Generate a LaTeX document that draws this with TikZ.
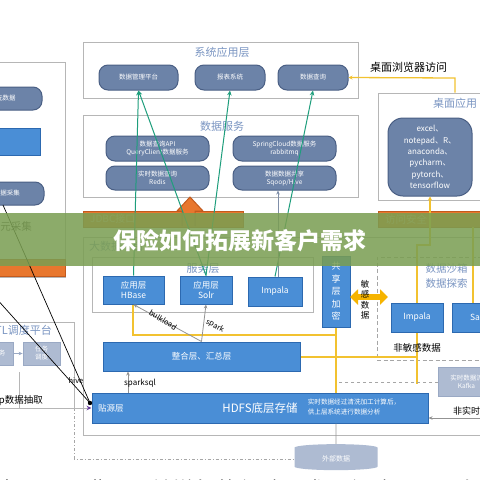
\documentclass[tikz,border=0pt]{standalone}
\usepackage{fontspec}
\setmainfont{Noto Sans CJK SC}
\usetikzlibrary{arrows.meta,shapes.geometric}
\definecolor{pillc}{HTML}{6C83A8}
\definecolor{pillb}{HTML}{4A5F84}
\definecolor{bluec}{HTML}{4A8ED6}
\definecolor{blueb}{HTML}{2C69B0}
\definecolor{titlec}{HTML}{7A95C2}
\definecolor{boxb}{HTML}{B6B6B6}
\definecolor{orangec}{HTML}{E8772E}
\definecolor{orangeb}{HTML}{C25A1E}
\definecolor{greenl}{HTML}{1E9E7C}
\definecolor{yell}{HTML}{F2C230}
\definecolor{yarrow}{HTML}{F6B400}
\definecolor{fadec}{HTML}{AEBBD2}
\definecolor{fadeb}{HTML}{9AA9C4}
\definecolor{bannerc}{HTML}{7A9E52}
\definecolor{purp}{HTML}{6A3FA0}
\begin{document}
\begin{tikzpicture}[x=1pt,y=-1pt,
  frame/.style={draw=boxb,line width=0.9pt,fill=white,inner sep=0pt},
  dframe/.style={draw=gray!70,line width=0.9pt,dashed,dash pattern=on 4pt off 2.5pt,inner sep=0pt},
  pill/.style={draw=pillb,fill=pillc,line width=1pt,rounded corners=9pt,text=white,align=center,inner sep=0pt,font=\fontsize{6.5}{8}\selectfont},
  bbox/.style={draw=blueb,fill=bluec,line width=1pt,text=white,align=center,inner sep=0pt,font=\fontsize{8.5}{10.5}\selectfont},
  fbox/.style={fill=fadec,draw=fadeb,line width=0.8pt,text=white,align=center,inner sep=0pt,font=\fontsize{6.5}{8}\selectfont},
  ttl/.style={text=titlec,inner sep=0pt,font=\fontsize{11}{12}\selectfont},
  lbl/.style={text=black,inner sep=0pt,font=\fontsize{8}{9}\selectfont},
  obar/.style={draw=orangeb,fill=orangec,line width=1pt,inner sep=0pt},
  gl/.style={draw=greenl,line width=1pt,-{Stealth[length=5pt,width=4.5pt]}},
  yl/.style={draw=yell,line width=1.3pt},
  gy/.style={draw=gray!85,line width=0.8pt,-{Stealth[length=4pt,width=3.5pt]}},
  bl/.style={draw=black,line width=0.7pt},
]
\useasboundingbox (0,0) rectangle (480,480);
\clip (0,0) rectangle (480,480);
\fill[white] (0,0) rectangle (480,480);

% ---------- frames ----------
\node[frame,minimum width=275pt,minimum height=56pt] (sysapp) at (220.5,70) {};
\node[ttl] (sysappt) at (222,52) {系统应用层};
\node[frame,minimum width=275pt,minimum height=82pt] (dserv) at (220.5,156) {};
\node[ttl] (dservt) at (222,126) {数据服务};
\node[frame,minimum width=114pt,minimum height=107pt] (desk) at (435,146.5) {};
\node[ttl] (deskt) at (455,103) {桌面应用};
\node[frame,minimum width=70pt,minimum height=215pt] (leftb) at (30,169.5) {};
\node[frame,minimum width=412pt,minimum height=198pt] (mainb) at (289,336) {};
\node[ttl,anchor=west] (maint) at (89,246) {大数据平台};
\node[frame,minimum width=221pt,minimum height=55pt] (serv) at (202.5,284.5) {};
\node[ttl] (servt) at (203,268) {服务层};
\node[dframe,minimum width=118pt,minimum height=103pt] (sandbox) at (436,308.5) {};
\node[ttl,align=center,font=\fontsize{10.5}{16}\selectfont] (sandt) at (446.5,276) {数据沙箱\\数据探索};
\node[frame,minimum width=84pt,minimum height=86pt] (etl) at (32,365) {};
\node[ttl,anchor=east] (etlt) at (52,330) {ETL调度平台};

% ---------- top pills ----------
\node[pill,minimum width=79pt,minimum height=25pt] (pa) at (138.5,77.5) {数据管理平台};
\node[pill,minimum width=70pt,minimum height=25pt] (pb) at (230,77.5) {报表系统};
\node[pill,minimum width=70pt,minimum height=25pt] (pc) at (313,77.5) {数据查询};
\node[lbl,font=\fontsize{11}{12}\selectfont] (browser) at (408.5,67) {桌面浏览器访问};

% ---------- data service pills ----------
\node[pill,minimum width=103pt,minimum height=25pt] (d1) at (157.5,148.5) {数据查询API\\QueryClient数据服务};
\node[pill,minimum width=103pt,minimum height=24pt] (d2) at (157.5,178) {实时数据查询\\Redis};
\node[pill,minimum width=103pt,minimum height=25pt] (d3) at (284.5,148.5) {SpringCloud数据服务\\rabbitmq};
\node[pill,minimum width=103pt,minimum height=24pt] (d4) at (284.5,178) {数据数据共享\\Sqoop/Hive};

% ---------- desktop pill ----------
\node[pill,rounded corners=15pt,minimum width=84pt,minimum height=78pt,font=\fontsize{8}{11.3}\selectfont] (dp) at (430,157) {excel、\\notepad、R、\\anaconda、\\pycharm、\\pytorch、\\tensorflow};

% ---------- left box content ----------
\node[pill,minimum width=72pt,minimum height=23pt] (lp1) at (6,98.5) {元数据};
\node[bbox,minimum width=50pt,minimum height=27pt] (lr) at (15,141.5) {};
\node[pill,minimum width=74pt,minimum height=23pt] (lp2) at (7,193.5) {数据采集};
\node[lbl,anchor=east,text=black!75,font=\fontsize{10.5}{12}\selectfont] (collect) at (32,227) {多元采集};
\node[obar,minimum width=70pt,minimum height=17pt] (lob) at (30,267.5) {};

% ---------- JDBC / access bars ----------
\node[obar,minimum width=160pt,minimum height=16pt] (jdbc) at (163,219) {};
\node[anchor=west,text=orangec!55!white,inner sep=0pt,font=\fontsize{10}{11}\selectfont] (jdbct) at (90,219) {JDBC接口};
\node[obar,minimum width=112pt,minimum height=16pt] (acc) at (434,219) {};
\node[anchor=west,text=orangec!55!white,inner sep=0pt,font=\fontsize{10.5}{11}\selectfont] (acct) at (385,219) {访问安全};
\filldraw[fill=orangec,draw=orangeb,line width=1pt] (182,226) -- (182,211) -- (177,211) -- (190,197) -- (203,211) -- (195,211) -- (195,226);

% ---------- ETL inner ----------
\node[fbox,minimum width=28pt,minimum height=23pt] (g1) at (-1,353.5) {任务};
\node[fbox,minimum width=37pt,minimum height=23pt] (g2) at (41.5,353.5) {任务\\调度};
\draw[gy,draw=fadeb] (g1) -- (g2);
\coordinate (vl1) at (19,372);
\coordinate (vl2) at (19,408);
\draw[draw=boxb,line width=0.8pt] (vl1) -- (vl2);

% ---------- yellow lines ----------
\coordinate (y1) at (455,78);
\draw[yl,-{Stealth[length=4pt,width=4pt]}] (desk.north -| y1) -- (y1) -- (pc.east);
\coordinate (y2) at (430,245);
\coordinate (y3) at (417,245);
\coordinate (i2t) at (417,303);
\draw[yl,{Stealth[length=4pt,width=4pt]}-] (dp.south) -- (y2) -- (y3) -- (i2t);
\coordinate (y4) at (473,227);
\coordinate (y5) at (473,303);
\draw[yl] (y4) -- (y5);
\coordinate (y6) at (133,305);
\coordinate (y7) at (133,335);
\coordinate (y8) at (336,335);
\draw[yl] (y6) -- (y7) -- (y8);
\coordinate (y9) at (336,327);
\coordinate (y10) at (336,393);
\draw[yl] (y9) -- (y10);
\coordinate (y11) at (300,357);
\coordinate (y12) at (417,357);
\draw[yl] (y11) -- (y12);
\coordinate (y13) at (417,332);
\coordinate (y14) at (417,384);
\draw[yl] (y13) -- (y14);
\coordinate (dg1) at (438,382);
\coordinate (dg2) at (338,382);
\draw[draw=gray!70,line width=0.8pt,dashed] (dg1) -- (dg2);

% ---------- service layer ----------
\node[bbox,minimum width=61pt,minimum height=28pt] (hbase) at (133.5,290) {应用层\\HBase};
\node[bbox,minimum width=52pt,minimum height=28pt] (solr) at (206,290) {应用层\\Solr};
\node[bbox,minimum width=54pt,minimum height=29pt] (impala) at (275,291.5) {Impala};
\node[bbox,minimum width=28pt,minimum height=71pt,font=\fontsize{9}{12.5}\selectfont] (share) at (336,291.5) {共\\享\\层\\加\\密};
\node[bbox,minimum width=52pt,minimum height=29pt] (impala2) at (417,317.5) {Impala};
\node[bbox,minimum width=50pt,minimum height=29pt] (sas) at (477,317.5) {Sas};
\node[lbl,font=\fontsize{9.5}{11}\selectfont] (nsens) at (417,348) {非敏感数据};

\coordinate (dl) at (350,297);
\coordinate (dr) at (388,297);
\draw[draw=yarrow,line width=6pt,{Triangle[length=8pt,width=15pt]}-{Triangle[length=8pt,width=15pt]}] (dl) -- (dr);
\node[lbl,align=center,font=\fontsize{8.5}{10.5}\selectfont] (sens) at (365,300) {敏\\感\\数\\据};

% ---------- integration + HDFS ----------
\node[bbox,minimum width=197pt,minimum height=29pt] (integ) at (201.5,356.5) {整合层、汇总层};
\node[bbox,minimum width=336pt,minimum height=30pt] (hdfs) at (260,408) {};
\node[text=white,anchor=west,inner sep=0pt,font=\fontsize{8.5}{10}\selectfont] (tieyuan) at (98,408) {贴源层};
\node[text=white,inner sep=0pt,font=\fontsize{11.5}{13}\selectfont] (hdfst) at (260,408) {HDFS底层存储};
\node[text=white,inner sep=0pt,align=left,font=\fontsize{6.6}{10}\selectfont] (hdfsr) at (354,407) {实时数据经过清洗加工计算后，\\供上层系统进行数据分析};
\node[fbox,minimum width=57pt,minimum height=29pt] (kafka) at (466.5,381.5) {实时数据流\\Kafka};

\node[cylinder,shape border rotate=90,aspect=0.25,minimum width=83pt,minimum height=26pt,fill=fadec,draw=none,text=white,inner sep=0pt,font=\fontsize{7}{8}\selectfont] (ext) at (336,459) {外部数据};
\draw[draw=gray!80,line width=0.8pt] (hdfs.south -| ext) -- (ext.north);
\draw[draw=gray!70,line width=0.8pt,dash pattern=on 3pt off 2pt on 1pt off 2pt] (etl.south east) -- (etl.south east |- ext.west) -- (ext.west);

% non-realtime
\coordinate (nr) at (490,418);
\draw[gy] (nr) -- (hdfs.east |- nr);
\node[lbl,anchor=west,font=\fontsize{9}{10}\selectfont] (nrt) at (453,411) {非实时数据};

% gray arrows
\draw[gy] (integ.north) -- (hbase.south);
\draw[gy] (integ.north) -- (solr.south);
\node[lbl,rotate=-31,font=\fontsize{7.5}{8}\selectfont] (bulk) at (163,320) {bulkload};
\node[lbl,rotate=-28,font=\fontsize{7.5}{8}\selectfont] (sparkl) at (215,326) {spark};
\coordinate (sq1) at (128,393);
\draw[gy] (sq1) -- (sq1 |- integ.south);
\node[lbl,font=\fontsize{8}{9}\selectfont] (sparksql) at (140,383) {sparksql};

% green / blue up lines
\draw[gl] (hbase.north) -- (pa.south);
\draw[gl] (solr.north) -- (pa.south);
\draw[gl] (solr.north) -- (pb.south);
\draw[gl] (impala.north) -- (pc.south);
\coordinate (ib) at (278,277);
\draw[draw=pillb!70,line width=0.8pt,-{Stealth[length=4pt,width=3.5pt]}] (ib) -- (ib |- d4.south);

% left black lines
\coordinate (b1) at (3,205);
\coordinate (b2) at (-5,297);
\coordinate (hv) at (90,403);
\draw[bl] (b1) -- (hv);
\draw[bl] (b2) -- (hv);
\fill (hv) circle (2.2pt);
\node[lbl,font=\fontsize{7.5}{8}\selectfont] (hive) at (76,381) {hive};

% sqoop
\coordinate (sq) at (-5,408);
\draw[draw=boxb,line width=0.9pt,-{Stealth[length=5pt,width=4.5pt,color=purp]}] (sq) -- (hdfs.west);
\node[lbl,anchor=east,font=\fontsize{9.5}{10}\selectfont] (sqoopt) at (43,401) {sqoop数据抽取};

% ---------- banner ----------
\node[fill=bannerc,opacity=0.86,minimum width=480pt,minimum height=53pt,inner sep=0pt] (banner) at (240,239.5) {};
\node[text=white,inner sep=0pt,font=\fontsize{23}{25}\selectfont\bfseries] (bannert) at (240,241) {保险如何拓展新客户需求};

% ---------- cut article text at bottom ----------
\node[anchor=base west,inner sep=0pt,text=black,font=\fontsize{22}{22}\selectfont] (foot) at (-4,498) {由于需要满足日益增长的保险需求，保险公司正在积极拓展};
\end{tikzpicture}
\end{document}
